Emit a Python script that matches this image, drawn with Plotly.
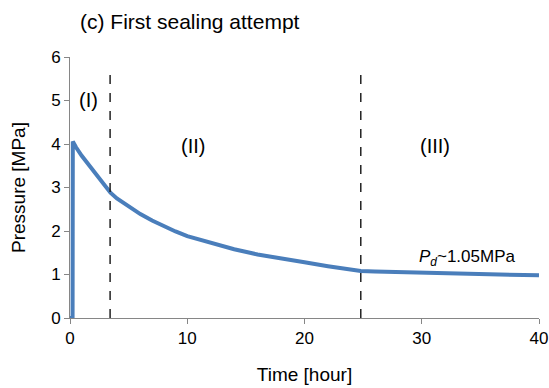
import plotly.graph_objects as go

# Data
time_h = [0, 0.2, 0.22, 0.24, 0.5, 1, 1.5, 2, 2.5, 3, 3.45, 4, 5, 6, 7, 8, 9, 10,
          12, 14, 16, 18, 20, 22, 24, 24.8, 26, 28, 30, 32, 34, 36, 38, 40]
pressure = [0, 0, 0, 4.06, 3.93, 3.73, 3.55, 3.38, 3.21, 3.04, 2.88, 2.75, 2.56, 2.39, 2.24, 2.11, 1.99, 1.88,
            1.72, 1.58, 1.46, 1.36, 1.28, 1.19, 1.11, 1.08, 1.07, 1.06, 1.05, 1.04, 1.02, 1.01, 0.99, 0.98]

phase_bounds = [3.42, 24.8]
phase_labels = ["(I)", "(II)", "(III)"]
phase_label_x = [1.57, 10.5, 31.1]
phase_label_y = [5.02, 3.96, 3.96]

x_ticks = [0, 10, 20, 30, 40]
y_ticks = [0, 1, 2, 3, 4, 5, 6]

FONT = "Liberation Sans, Arial, sans-serif"

L, R, T, B = 69.5, 9.5, 57, 70.3
PW, PH = 549 - L - R, 388 - T - B

fig = go.Figure()
fig.add_trace(go.Scatter(x=time_h, y=pressure, mode="lines",
                         line=dict(color="#4a7ebb", width=4), showlegend=False))

for xb in phase_bounds:
    fig.add_shape(type="line", x0=xb, x1=xb, y0=0, y1=5.68, xref="x", yref="y",
                  line=dict(color="#222222", width=1.5, dash="dash"))

for lab, lx, ly in zip(phase_labels, phase_label_x, phase_label_y):
    fig.add_annotation(x=lx, y=ly, text=lab, showarrow=False,
                       font=dict(family=FONT, size=20, color="black"))

fig.add_annotation(x=33.9, y=1.37, text="<i>P</i><sub><i>d</i></sub>~1.05MPa", showarrow=False,
                   font=dict(family=FONT, size=17, color="black"))

fig.add_annotation(x=(78 - L) / PW, y=1 + (T - 22) / PH, xref="paper", yref="paper",
                   text="(c) First sealing attempt", showarrow=False,
                   xanchor="left", yanchor="middle",
                   font=dict(family=FONT, size=21, color="black"))

fig.update_layout(
    width=549, height=388,
    margin=dict(l=L, r=R, t=T, b=B),
    paper_bgcolor="white", plot_bgcolor="white",
    font=dict(family=FONT, size=17, color="black"),
    xaxis=dict(range=[0, 40], tickvals=x_ticks, showgrid=False, zeroline=False,
               showline=True, linecolor="#868686", linewidth=1, automargin=False,
               ticks="outside", ticklen=5, tickcolor="#868686",
               title=dict(text="Time [hour]", font=dict(size=19), standoff=20),
               tickfont=dict(size=17)),
    yaxis=dict(range=[0, 6], tickvals=y_ticks, showgrid=False, zeroline=False,
               showline=True, linecolor="#868686", linewidth=1, automargin=False,
               ticks="outside", ticklen=5, tickcolor="#868686",
               title=dict(text="Pressure [MPa]", font=dict(size=19), standoff=20),
               tickfont=dict(size=17)),
)

fig.write_html("out.html")
